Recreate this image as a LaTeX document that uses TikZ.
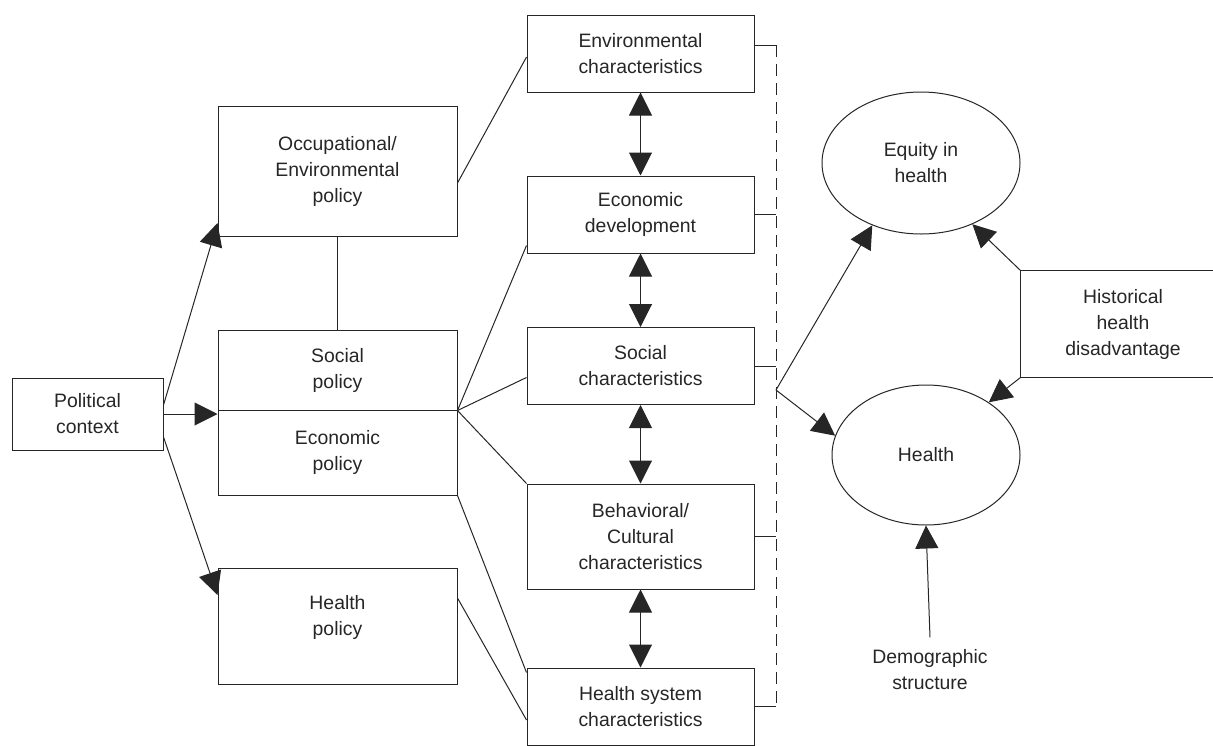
\documentclass[tikz,border=0pt]{standalone}
\usepackage{fontspec}
\setmainfont{Liberation Sans}
\usepackage{tikz}
\usetikzlibrary{arrows.meta,shapes.geometric}

\begin{document}
\begin{tikzpicture}[x=1pt,y=-1pt,
    block/.style={draw, rectangle, align=center, inner sep=0pt},
    line width=1pt, draw=black!85, text=black!85,
    font=\fontsize{19.4}{26}\selectfont]
            \tikzset{oval/.style = {draw, ellipse, align=center, inner sep=0pt}}
            \tikzset{edge/.style = {-{Triangle[length=23pt,width=23pt]}}}
            \tikzset{twoway/.style = {{Triangle[length=23pt,width=23pt]}-{Triangle[length=23pt,width=23pt]}}}
            \useasboundingbox (0,0) rectangle (1213,745);

            % policies
            \node[block, minimum width=151pt, minimum height=72pt] (political) at (87.5,414) {Political\\context};
            \node[block, minimum width=239pt, minimum height=130pt] (occupational) at (337.5,171) {Occupational/\\Environmental\\policy};
            \node[block, minimum width=239pt, minimum height=80pt] (socialpol) at (337.5,370) {Social\\policy};
            \node[block, minimum width=239pt, minimum height=85pt] (economicpol) at (337.5,452.5) {Economic\\policy};
            \node[block, minimum width=239pt, minimum height=116pt, text depth=22pt] (healthpol) at (337.5,626) {Health\\policy};

            % characteristics
            \node[block, minimum width=227pt, minimum height=77pt] (environment) at (640.5,53.5) {Environmental\\characteristics};
            \node[block, minimum width=227pt, minimum height=77pt] (development) at (640.5,214.5) {Economic\\development};
            \node[block, minimum width=227pt, minimum height=77pt] (socialchar) at (640.5,366) {Social\\characteristics};
            \node[block, minimum width=227pt, minimum height=105pt] (behavioral) at (640.5,536.5) {Behavioral/\\Cultural\\characteristics};
            \node[block, minimum width=227pt, minimum height=77pt] (healthsys) at (640.5,706.5) {Health system\\characteristics};

            % outcomes
            \node[oval, minimum width=198pt, minimum height=142pt] (equity) at (921,163) {Equity in\\health};
            \node[oval, minimum width=188pt, minimum height=140pt] (health) at (926,455) {Health};
            \node[align=center, minimum width=204pt, minimum height=106pt, inner sep=0pt] (historical) at (1123,324) {Historical\\health\\disadvantage};
            \node[align=center, inner sep=0pt] (demographic) at (930,670) {Demographic\\structure};

            \coordinate (hub) at (socialpol.south east);
            \coordinate (dtop) at (776,45);
            \coordinate (split) at (776,390);

            \draw [edge] ([yshift=9pt]political.east) to ([yshift=-52pt]occupational.west);
            \draw [edge] (political.east) to (political.east -| socialpol.west);
            \draw [edge] ([yshift=-23pt]political.east) to ([yshift=31pt]healthpol.west);

            \draw (occupational.south) to (socialpol.north);
            \draw ([yshift=-12pt]occupational.east) to ([yshift=-3.5pt]environment.west);
            \draw (hub) to ([yshift=8pt]development.south west);
            \draw (hub) to ([yshift=-11.5pt]socialchar.west);
            \draw (hub) to (behavioral.north west);
            \draw (economicpol.south east) to ([yshift=-5pt]healthsys.north west);
            \draw ([yshift=28pt]healthpol.east) to ([yshift=-13.5pt]healthsys.west);

            \draw [twoway] (environment) to (development);
            \draw [twoway] (development) to (socialchar);
            \draw [twoway] (socialchar) to (behavioral);
            \draw [twoway] (behavioral) to (healthsys);

            \draw ([yshift=8.5pt]environment.east) to (dtop);
            \draw (development.east) to (development.east -| dtop);
            \draw (socialchar.east) to (socialchar.east -| dtop);
            \draw (behavioral.east) to (behavioral.east -| dtop);
            \draw (healthsys.east) to (healthsys.east -| dtop);
            \draw [dash pattern=on 12pt off 7pt] (dtop) to (healthsys.east -| dtop);

            \draw [edge] (split) to (equity.232);
            \draw [edge] (split) to (health.168);

            \draw ([xshift=15pt]historical.north east) to (historical.north west) to (historical.south west) to ([xshift=15pt]historical.south east);
            \draw [edge] (historical.north west) to (equity.310);
            \draw [edge] (historical.south west) to (health.40);
            \draw [edge] ([yshift=12pt]demographic.north) to (health.south);
            \end{tikzpicture}
\end{document}
